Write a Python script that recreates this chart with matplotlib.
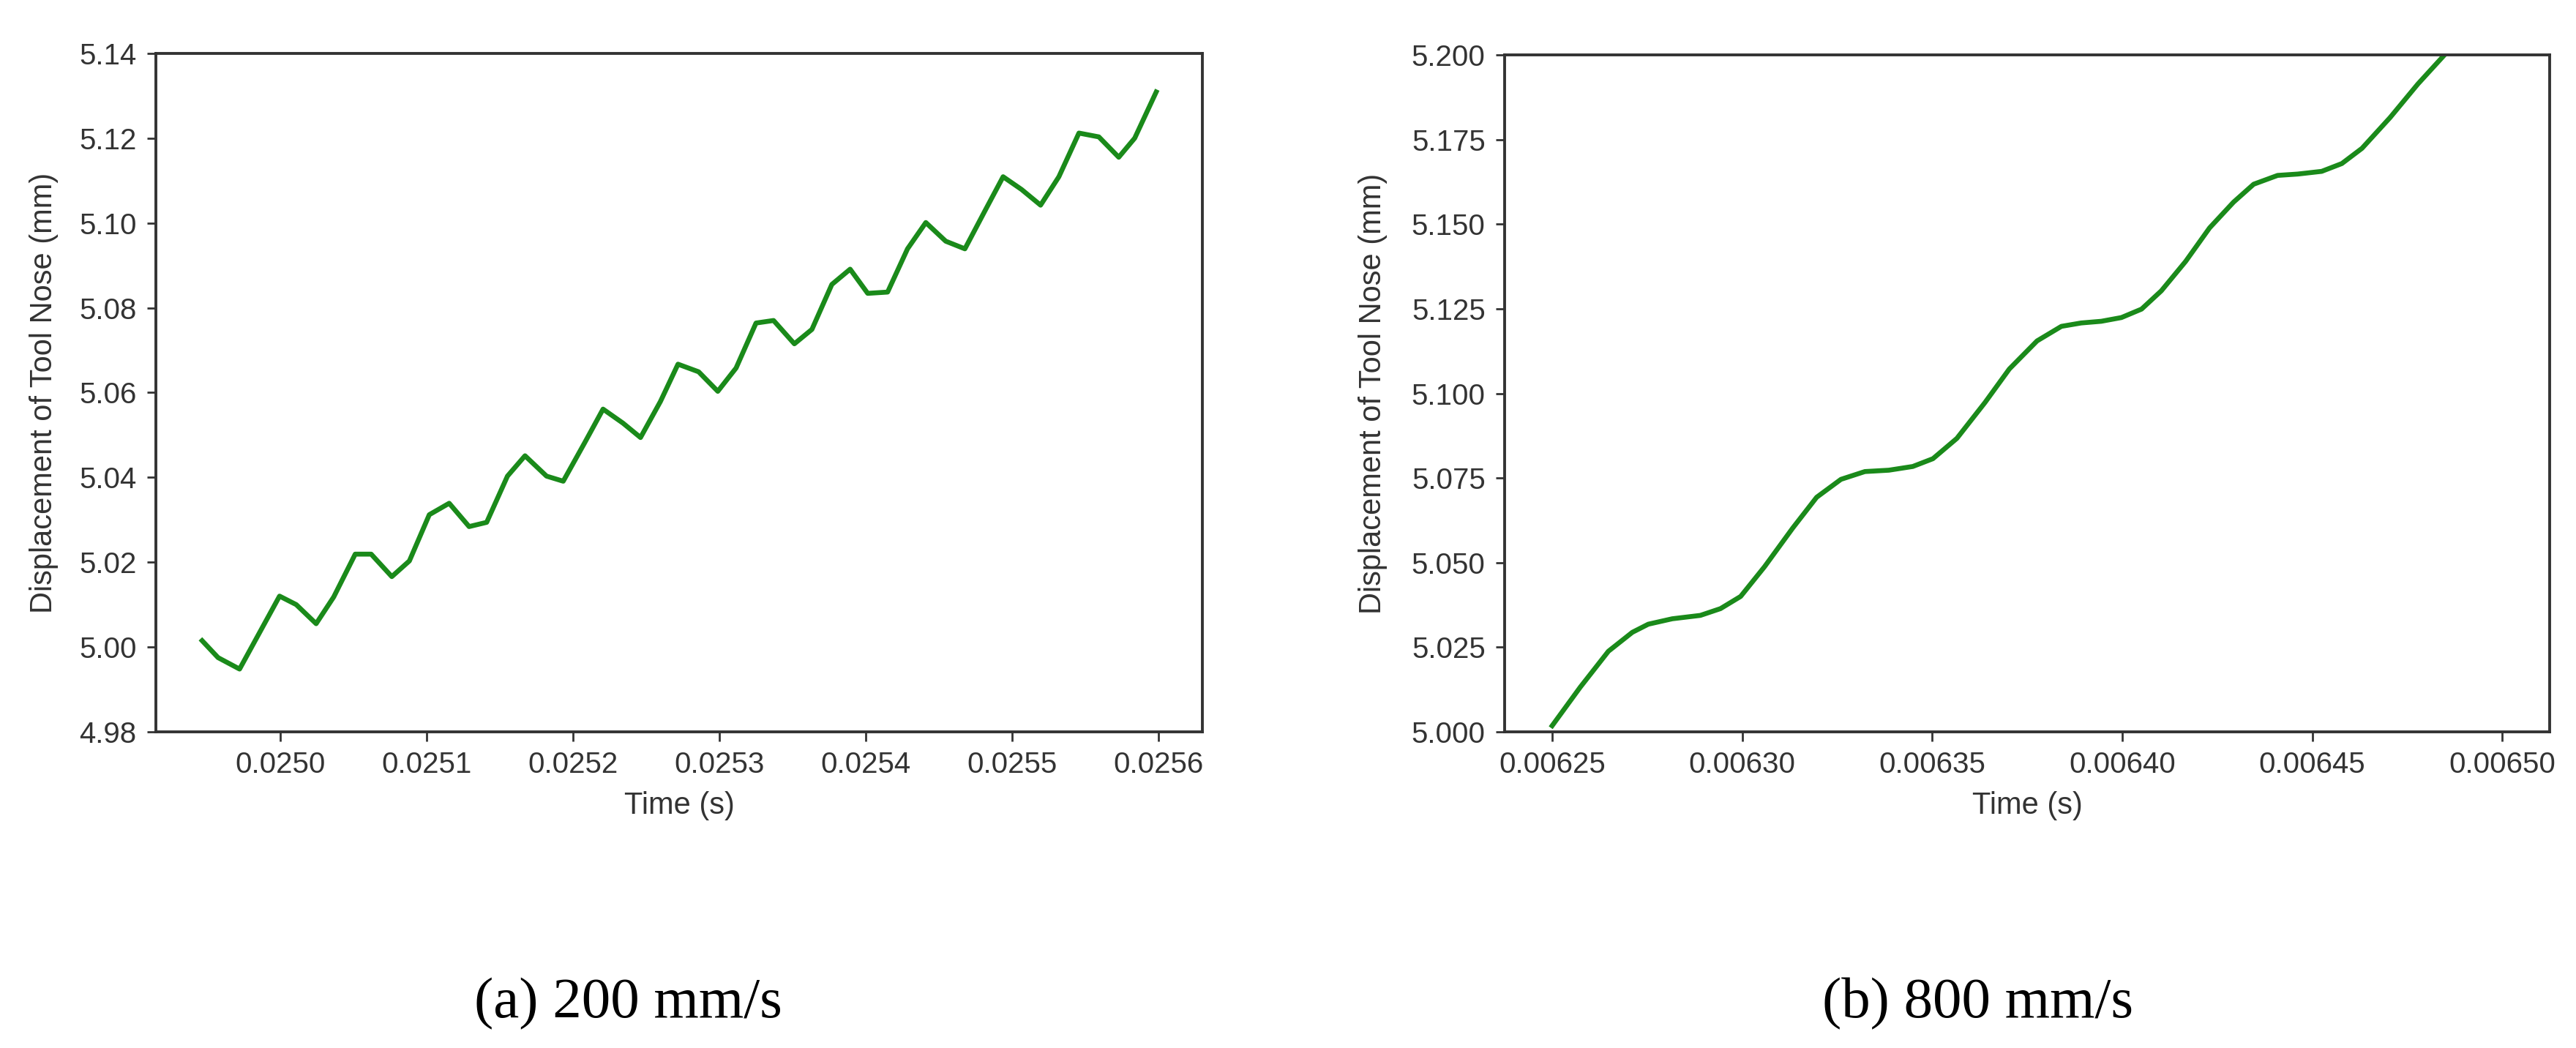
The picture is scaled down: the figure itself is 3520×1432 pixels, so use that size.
import matplotlib
matplotlib.use("Agg")
import matplotlib.pyplot as plt
from matplotlib.ticker import FormatStrFormatter

# (a) 200 mm/s : tempo (s) e deslocamento (mm)
tempo_a = [0.0249466, 0.0249575, 0.0249722, 0.0249995, 0.0250109, 0.0250245,
           0.0250365, 0.0250512, 0.0250621, 0.0250762, 0.0250882, 0.0251018,
           0.0251154, 0.0251290, 0.0251410, 0.0251552, 0.0251672, 0.0251819,
           0.0251933, 0.0252080, 0.0252205, 0.0252341, 0.0252461, 0.0252597,
           0.0252717, 0.0252858, 0.0252989, 0.0253114, 0.0253250, 0.0253370,
           0.0253512, 0.0253632, 0.0253768, 0.0253893, 0.0254013, 0.0254149,
           0.0254285, 0.0254410, 0.0254546, 0.0254677, 0.0254813, 0.0254938,
           0.0255064, 0.0255194, 0.0255319, 0.0255456, 0.0255592, 0.0255728,
           0.0255837, 0.0255984]
desloc_a = [5.0015, 4.9975, 4.9948, 5.0120, 5.0100, 5.0055,
            5.0118, 5.0219, 5.0219, 5.0166, 5.0203, 5.0312,
            5.0339, 5.0284, 5.0294, 5.0403, 5.0451, 5.0403,
            5.0391, 5.0482, 5.0561, 5.0528, 5.0494, 5.0579,
            5.0667, 5.0649, 5.0603, 5.0658, 5.0764, 5.0770,
            5.0715, 5.0749, 5.0855, 5.0891, 5.0834, 5.0837,
            5.0939, 5.1001, 5.0957, 5.0939, 5.1028, 5.1109,
            5.1079, 5.1042, 5.1109, 5.1212, 5.1203, 5.1155,
            5.1200, 5.1309]

# (b) 800 mm/s
tempo_b = [0.0062500, 0.0062574, 0.0062648, 0.0062711, 0.0062753, 0.0062816,
           0.0062890, 0.0062943, 0.0062996, 0.0063059, 0.0063133, 0.0063196,
           0.0063260, 0.0063323, 0.0063386, 0.0063449, 0.0063502, 0.0063565,
           0.0063639, 0.0063703, 0.0063776, 0.0063840, 0.0063892, 0.0063945,
           0.0063998, 0.0064051, 0.0064103, 0.0064167, 0.0064230, 0.0064293,
           0.0064346, 0.0064409, 0.0064462, 0.0064525, 0.0064578, 0.0064631,
           0.0064705, 0.0064778, 0.0064848]
desloc_b = [5.0018, 5.0132, 5.0238, 5.0294, 5.0318, 5.0334,
            5.0344, 5.0364, 5.0400, 5.0488, 5.0602, 5.0693,
            5.0746, 5.0769, 5.0773, 5.0784, 5.0807, 5.0867,
            5.0973, 5.1072, 5.1155, 5.1198, 5.1208, 5.1213,
            5.1224, 5.1249, 5.1303, 5.1390, 5.1489, 5.1565,
            5.1618, 5.1644, 5.1648, 5.1656, 5.1679, 5.1724,
            5.1815, 5.1914, 5.2000]

ticks_x_a = [0.0250, 0.0251, 0.0252, 0.0253, 0.0254, 0.0255, 0.0256]
ticks_y_a = [4.98, 5.00, 5.02, 5.04, 5.06, 5.08, 5.10, 5.12, 5.14]
ticks_x_b = [0.00625, 0.00630, 0.00635, 0.00640, 0.00645, 0.00650]
ticks_y_b = [5.000, 5.025, 5.050, 5.075, 5.100, 5.125, 5.150, 5.175, 5.200]

legendas = ["(a) 200 mm/s", "(b) 800 mm/s"]

VERDE = "#1a8a1a"
CINZA = "#333333"

plt.rcParams["font.family"] = ["Liberation Sans", "DejaVu Sans"]

fig = plt.figure(figsize=(17.6, 7.16), dpi=200)
ax_a = fig.add_axes([0.0605, 0.3017, 0.4063, 0.6474])
ax_b = fig.add_axes([0.5841, 0.3017, 0.4057, 0.6459])


def estilo_eixo(ax, xlim, ylim, xt, yt, fmt_x, fmt_y, pos_label):
    ax.set_xlim(*xlim)
    ax.set_ylim(*ylim)
    ax.set_xticks(xt)
    ax.set_yticks(yt)
    ax.xaxis.set_major_formatter(FormatStrFormatter(fmt_x))
    ax.yaxis.set_major_formatter(FormatStrFormatter(fmt_y))
    for s in ax.spines.values():
        s.set_color(CINZA)
        s.set_linewidth(1.4)
    ax.tick_params(direction="out", length=4.5, width=1.0, color=CINZA,
                   labelcolor=CINZA, labelsize=14.5, pad=5)
    ax.set_xlabel("Time (s)", fontsize=15, color=CINZA, labelpad=6)
    ax.set_ylabel("Displacement of Tool Nose (mm)", fontsize=15, color=CINZA)
    ax.yaxis.set_label_coords(pos_label, 0.5)


ax_a.plot(tempo_a, desloc_a, color=VERDE, lw=2.4, solid_joinstyle="round")
estilo_eixo(ax_a, (0.024915, 0.02563), (4.98, 5.14), ticks_x_a, ticks_y_a,
            "%.4f", "%.2f", -0.093)

ax_b.plot(tempo_b, desloc_b, color=VERDE, lw=2.4, solid_joinstyle="round")
estilo_eixo(ax_b, (0.0062375, 0.0065125), (5.0, 5.2), ticks_x_b, ticks_y_b,
            "%.5f", "%.3f", -0.112)

fig.text(0.2438, 0.0293, legendas[0], ha="center", va="baseline",
         fontsize=28.4, family=["Liberation Serif", "DejaVu Serif"])
fig.text(0.7679, 0.0293, legendas[1], ha="center", va="baseline",
         fontsize=28.4, family=["Liberation Serif", "DejaVu Serif"])

fig.savefig("out.png", dpi=200, facecolor="white")
